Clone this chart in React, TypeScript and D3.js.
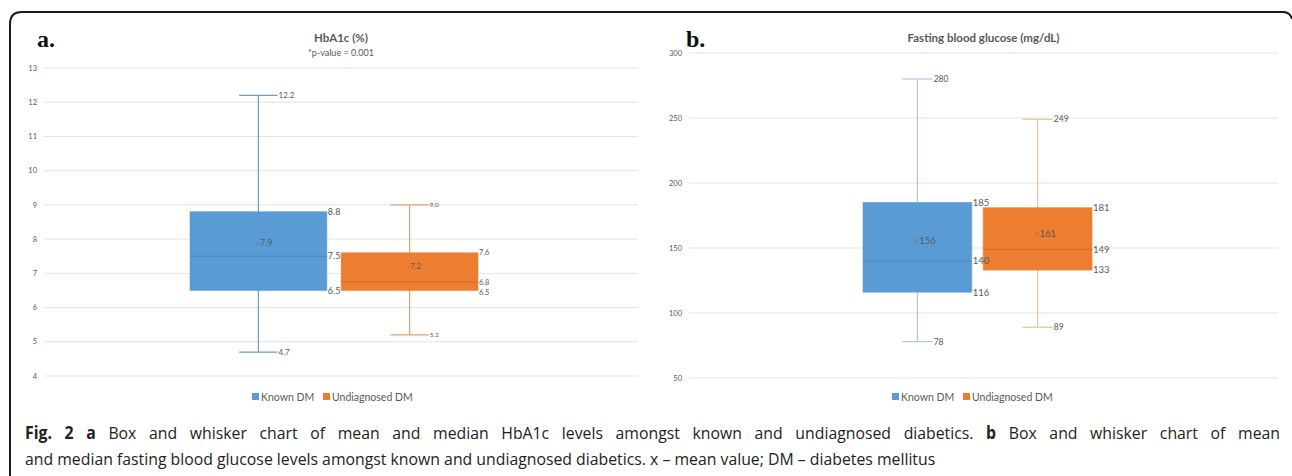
import { useLayoutEffect, useRef } from 'react';
import * as d3 from 'd3';

// series + values
const seriesNames = ['Known DM', 'Undiagnosed DM'];
const seriesColors = ['#5B9BD5', '#ED7D31'];
const medianColors = ['#4A83BC', '#CF6A28'];

const hbMin = [4.7, 5.2];
const hbQ1 = [6.5, 6.5];
const hbMedian = [7.5, 6.75];
const hbQ3 = [8.8, 7.6];
const hbMax = [12.2, 9.0];
const hbMean = [7.9, 7.2];
const hbTicks = [4, 5, 6, 7, 8, 9, 10, 11, 12, 13];

const fbgMin = [78, 89];
const fbgQ1 = [116, 133];
const fbgMedian = [140, 149];
const fbgQ3 = [185, 181];
const fbgMax = [280, 249];
const fbgMean = [156, 161];
const fbgTicks = [50, 100, 150, 200, 250, 300];

const FONT = 'Lato, "Open Sans", sans-serif';
const GRAY = '#595959';

const panels = [
  {
    key: 'a', letter: 'a.', letterX: 37, title: 'HbA1c (%)', subtitle: '*p-value = 0.001',
    left: 44, right: 638, top: 68, bottom: 376, domain: [4, 13], ticks: hbTicks,
    boxRange: [190, 478], padInner: 0.095, fmt: d3.format('.1f'), legendX: 252,
    whiskerColors: ['#6F9CC4', '#E3A172'], labelSize: [9, 7.5],
    min: hbMin, q1: hbQ1, median: hbMedian, q3: hbQ3, max: hbMax, mean: hbMean,
  },
  {
    key: 'b', letter: 'b.', letterX: 686, title: 'Fasting blood glucose (mg/dL)', subtitle: '',
    left: 689, right: 1278, top: 53, bottom: 378, domain: [50, 300], ticks: fbgTicks,
    boxRange: [863, 1092], padInner: 0.095, fmt: d3.format('d'), legendX: 892,
    whiskerColors: ['#A9C7DE', '#E8C3A2'], labelSize: [9.5, 9.5],
    min: fbgMin, q1: fbgQ1, median: fbgMedian, q3: fbgQ3, max: fbgMax, mean: fbgMean,
  },
];

function Panel({ p }: { p: any }) {
  const y = d3.scaleLinear().domain(p.domain).range([p.bottom, p.top]);
  const x = d3.scaleBand<string>()
    .domain(seriesNames)
    .range(p.boxRange)
    .paddingInner(p.padInner)
    .paddingOuter(0);
  const bw = x.bandwidth();
  const cap = bw * 0.14;
  const cx = (p.left + p.right) / 2;

  return (
    <g>
      <text x={p.letterX} y={47} fontFamily='"Liberation Serif", "DejaVu Serif", serif'
        fontWeight="bold" fontSize={24} fill="#111">{p.letter}</text>
      <text x={cx} y={42} textAnchor="middle" fontFamily={FONT} fontWeight="bold"
        fontSize={11.5} fill={GRAY}>{p.title}</text>
      {p.subtitle && (
        <text x={cx} y={56} textAnchor="middle" fontFamily={FONT} fontSize={9} fill={GRAY}>{p.subtitle}</text>
      )}

      {/* grid + tick labels */}
      {p.ticks.map((t: number) => (
        <g key={t}>
          <line x1={p.left} x2={p.right} y1={y(t)} y2={y(t)} stroke="#E3E3E3" strokeWidth={1} />
          <text x={p.left - 7} y={y(t)} dy="0.35em" textAnchor="end" fontFamily={FONT}
            fontSize={7.5} fill={GRAY}>{t}</text>
        </g>
      ))}

      {/* whiskers + boxes */}
      {seriesNames.map((s, i) => {
        const x0 = x(s)!;
        const mid = x0 + bw / 2;
        const wc = p.whiskerColors[i];
        return (
          <g key={s}>
            <line x1={mid} x2={mid} y1={y(p.max[i])} y2={y(p.min[i])} stroke={wc} strokeWidth={1.2} />
            <line x1={mid - cap} x2={mid + cap} y1={y(p.max[i])} y2={y(p.max[i])} stroke={wc} strokeWidth={1.2} />
            <line x1={mid - cap} x2={mid + cap} y1={y(p.min[i])} y2={y(p.min[i])} stroke={wc} strokeWidth={1.2} />
            <rect x={x0} y={y(p.q3[i])} width={bw} height={y(p.q1[i]) - y(p.q3[i])}
              fill={seriesColors[i]} stroke={seriesColors[i]} strokeOpacity={0.6} />
            <line x1={x0} x2={x0 + bw} y1={y(p.median[i])} y2={y(p.median[i])}
              stroke={medianColors[i]} strokeWidth={1} />
          </g>
        );
      })}

      {/* labels on top */}
      {seriesNames.map((s, i) => {
        const x0 = x(s)!;
        const mid = x0 + bw / 2;
        const fs = p.labelSize[i];
        return (
          <g key={s + '-lab'} fontFamily={FONT} fill={GRAY}>
            <text x={mid - 3} y={y(p.mean[i])} dy="0.35em" fontSize={fs}>
              <tspan fill={medianColors[i]} fontSize={fs - 1}>×</tspan>{p.fmt(p.mean[i])}
            </text>
            <text x={mid + cap + 1} y={y(p.max[i])} dy="0.35em" fontSize={fs - 1}>{p.fmt(p.max[i])}</text>
            <text x={mid + cap + 1} y={y(p.min[i])} dy="0.35em" fontSize={fs - 1}>{p.fmt(p.min[i])}</text>
            <text x={x0 + bw + 1} y={y(p.q3[i])} dy="0.35em" fontSize={fs}>{p.fmt(p.q3[i])}</text>
            <text x={x0 + bw + 1} y={y(p.median[i])} dy="0.35em" fontSize={fs}>{p.fmt(p.median[i])}</text>
            <text x={x0 + bw + 1} y={y(p.q1[i]) + (p.key === 'a' && i === 1 ? 2 : 0)} dy="0.35em" fontSize={fs}>{p.fmt(p.q1[i])}</text>
          </g>
        );
      })}

      {/* legend */}
      <g transform={`translate(${p.legendX},397)`}>
        <rect x={0} y={-4} width={7} height={7} fill={seriesColors[0]} />
        <text x={9} y={0} dy="0.35em" fontFamily={FONT} fontSize={10.5} fill={GRAY}>Known DM</text>
        <rect x={71} y={-4} width={7} height={7} fill={seriesColors[1]} />
        <text x={80} y={0} dy="0.35em" fontFamily={FONT} fontSize={10.5} fill={GRAY}>Undiagnosed DM</text>
      </g>
    </g>
  );
}

const captionLine1 = 'Box and whisker chart of mean and median HbA1c levels amongst known and undiagnosed diabetics.';
const captionLine1b = 'Box and whisker chart of mean';
const captionLine2 = 'and median fasting blood glucose levels amongst known and undiagnosed diabetics. x – mean value; DM – diabetes mellitus';
const CAP_SCALE = 0.93; // caption face in the figure is a bit narrower than Open Sans

export default function App() {
  const line1 = useRef<SVGTextElement>(null);

  // justify first caption line like the journal layout
  useLayoutEffect(() => {
    const el = line1.current;
    if (!el) return;
    el.setAttribute('word-spacing', '0');
    const natural = el.getComputedTextLength();
    const spaces = (el.textContent || '').split(' ').length - 1;
    const extra = ((1280 - 25) / CAP_SCALE - natural) / spaces;
    el.setAttribute('word-spacing', String(Math.max(0, extra)));
  }, []);

  return (
    <svg width={1292} height={476} style={{ position: 'absolute', left: 0, top: 0, background: '#fff' }}>
      <path d="M10,476 V24 Q10,12 22,12 H1283 Q1290,12 1292,19" fill="none" stroke="#1a1a1a" strokeWidth={2} />
      {panels.map(p => <Panel key={p.key} p={p} />)}

      <g transform={`translate(25,0) scale(${CAP_SCALE},1)`} fontFamily='"Open Sans", sans-serif' fontSize={17} fill="#222">
        <text ref={line1} x={0} y={439}>
          <tspan fontWeight="bold">Fig. 2 a</tspan> {captionLine1} <tspan fontWeight="bold">b</tspan> {captionLine1b}
        </text>
        <text x={0} y={465}>{captionLine2}</text>
      </g>
    </svg>
  );
}
